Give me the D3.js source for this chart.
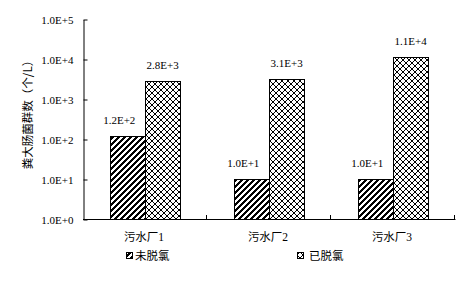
<!DOCTYPE html>
<html>
<head>
<meta charset="utf-8">
<script src="https://cdn.jsdelivr.net/npm/d3@7"></script>
<style>
  html, body { margin: 0; padding: 0; background: #fff; }
  svg { display: block; }
  text { fill: #000; }
</style>
</head>
<body>
<svg id="chart" width="474" height="284"></svg>
<script>
// Plants and the two sampling conditions
const categories = ["污水厂1", "污水厂2", "污水厂3"];
const seriesNames = ["未脱氯", "已脱氯"];
// Fecal coliform counts (个/L)
const notDechlorinated = [120, 10, 10];
const dechlorinated = [2800, 3100, 11000];
// Value labels as printed on the bars
const notDechlorinatedLabels = ["1.2E+2", "1.0E+1", "1.0E+1"];
const dechlorinatedLabels = ["2.8E+3", "3.1E+3", "1.1E+4"];
// Log axis ticks
const yTickValues = [1, 10, 100, 1000, 10000, 100000];
const yTickLabels = ["1.0E+0", "1.0E+1", "1.0E+2", "1.0E+3", "1.0E+4", "1.0E+5"];
const yTitle = "粪大肠菌群数（个/L）";

const svg = d3.select("#chart");
const serif = "'Liberation Serif', 'Times New Roman', 'Noto Sans CJK SC', serif";
const cjk = "'Liberation Serif', 'Noto Sans CJK SC', sans-serif";

const plotLeft = 83, plotRight = 455, plotTop = 19, plotBottom = 219;

const x = d3.scaleBand().domain(categories).range([plotLeft, plotRight]).paddingInner(0).paddingOuter(0);
const xs = d3.scaleBand().domain(seriesNames).range([0, x.bandwidth()]).paddingInner(0).paddingOuter(0.75);
const y = d3.scaleLog().domain([1, 100000]).range([plotBottom, plotTop]);

// Fill patterns built pixel by pixel so they stay crisp
const defs = svg.append("defs");
function pixelPattern(id, size, isInk) {
  const p = defs.append("pattern").attr("id", id)
    .attr("patternUnits", "userSpaceOnUse").attr("width", size).attr("height", size);
  p.append("rect").attr("width", size).attr("height", size).attr("fill", "#fff");
  for (let r = 0; r < size; r++) {
    for (let c = 0; c < size; c++) {
      if (isInk(r, c)) {
        p.append("rect").attr("x", c).attr("y", r).attr("width", 1).attr("height", 1)
          .attr("fill", "#000").attr("shape-rendering", "crispEdges");
      }
    }
  }
}
// wide upward diagonal stripes
pixelPattern("stripe", 6, (r, c) => ((r + c) % 6) >= 3);
// diagonal cross-hatch
pixelPattern("cross", 6, (r, c) => c === r || c === 5 - r);

const fills = { "未脱氯": "url(#stripe)", "已脱氯": "url(#cross)" };
const rows = categories.map((c, i) => ({
  cat: c,
  bars: [
    { s: seriesNames[0], v: notDechlorinated[i], label: notDechlorinatedLabels[i], dx: -8 },
    { s: seriesNames[1], v: dechlorinated[i], label: dechlorinatedLabels[i], dx: 0 }
  ]
}));

const groups = svg.append("g").selectAll("g").data(rows).join("g")
  .attr("transform", d => `translate(${x(d.cat)},0)`);

groups.selectAll("rect").data(d => d.bars).join("rect")
  .attr("x", d => Math.round(xs(d.s)) + 0.5)
  .attr("y", d => Math.round(y(d.v)) + 0.5)
  .attr("width", Math.round(xs.bandwidth()))
  .attr("height", d => plotBottom - Math.round(y(d.v)))
  .attr("fill", d => fills[d.s])
  .attr("stroke", "#000").attr("stroke-width", 1);

groups.selectAll("text").data(d => d.bars).join("text")
  .attr("x", d => xs(d.s) + xs.bandwidth() / 2 + d.dx)
  .attr("y", d => y(d.v) - 12)
  .attr("text-anchor", "middle")
  .attr("font-family", serif).attr("font-size", 11)
  .text(d => d.label);

// Y axis, ticks pointing into the plot
const yAxis = d3.axisLeft(y).tickValues(yTickValues)
  .tickFormat((d, i) => yTickLabels[i]).tickSizeInner(-4).tickSizeOuter(0).tickPadding(10);
const gy = svg.append("g").attr("transform", `translate(${plotLeft + 0.5},0.5)`).call(yAxis);
gy.selectAll("text").attr("font-family", serif).attr("font-size", 11).attr("fill", "#000");
gy.selectAll("line, path").attr("stroke", "#000");

// X axis with boundary ticks pointing up
const gx = svg.append("g");
gx.append("line").attr("x1", plotLeft).attr("x2", plotRight + 0.5)
  .attr("y1", plotBottom + 0.5).attr("y2", plotBottom + 0.5).attr("stroke", "#000");
const bounds = categories.map(c => x(c)).slice(1).concat([x.range()[1]]);
gx.selectAll("line.tick").data(bounds).join("line").attr("class", "tick")
  .attr("x1", d => Math.round(d) - 0.5).attr("x2", d => Math.round(d) - 0.5)
  .attr("y1", plotBottom + 0.5).attr("y2", plotBottom - 4)
  .attr("stroke", "#000");
gx.selectAll("text").data(categories).join("text")
  .attr("x", d => x(d) + x.bandwidth() / 2 - 1)
  .attr("y", 241)
  .attr("text-anchor", "middle")
  .attr("font-family", cjk).attr("font-size", 11.5)
  .text(d => d);

// Y title
svg.append("text")
  .attr("transform", "translate(32,112) rotate(-90)")
  .attr("text-anchor", "middle")
  .attr("font-family", "'Noto Sans CJK SC', sans-serif").attr("font-size", 11.5)
  .text(yTitle);

// Legend
const legendPos = [{ x: 126, tx: 135 }, { x: 297, tx: 309 }];
const lg = svg.append("g").selectAll("g").data(seriesNames).join("g");
lg.append("rect")
  .attr("x", (d, i) => legendPos[i].x + 0.5).attr("y", 252.5)
  .attr("width", 6).attr("height", 6)
  .attr("fill", d => fills[d]).attr("stroke", "#000");
lg.append("text")
  .attr("x", (d, i) => legendPos[i].tx).attr("y", 259.5)
  .attr("font-family", "'Noto Sans CJK SC', sans-serif").attr("font-size", 11.5)
  .text(d => d);
</script>
</body>
</html>
